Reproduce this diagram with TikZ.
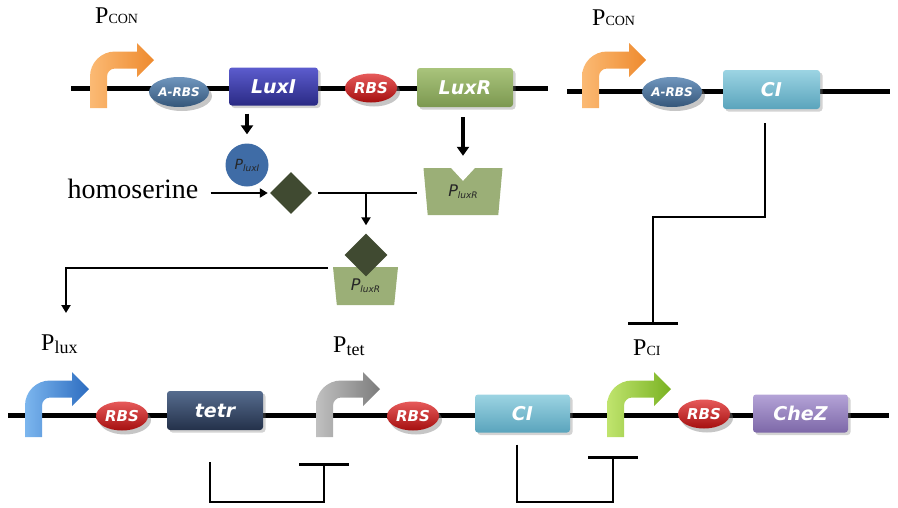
\documentclass[tikz,border=0pt]{standalone}
\usepackage{fontspec}
\setmainfont{Liberation Serif}
\newfontfamily\genefont{DejaVu Sans}
\usepackage{tikz}
\usetikzlibrary{arrows.meta, calc, shapes.geometric, shadows}

\definecolor{luxItop}{HTML}{5C5CCE}
\definecolor{luxIbot}{HTML}{2A2A84}
\definecolor{luxRtop}{HTML}{A9C47C}
\definecolor{luxRbot}{HTML}{7C9850}
\definecolor{citop}{HTML}{9CD4E3}
\definecolor{cibot}{HTML}{5AA4BC}
\definecolor{tetrtop}{HTML}{566C8E}
\definecolor{tetrbot}{HTML}{24314A}
\definecolor{cheztop}{HTML}{B4A3D7}
\definecolor{chezbot}{HTML}{7D68A8}
\definecolor{rbsred}{HTML}{DC1414}
\definecolor{arbsblue}{HTML}{4C7CAE}
\definecolor{plblue}{HTML}{3F6CA6}
\definecolor{sage}{HTML}{9BAF77}
\definecolor{olive}{HTML}{404A31}
\definecolor{orangeA}{HTML}{FBBA74}
\definecolor{orangeB}{HTML}{EE8A2E}
\definecolor{blueA}{HTML}{7CB6EE}
\definecolor{blueB}{HTML}{2C6CC0}
\definecolor{greyA}{HTML}{C0C0C0}
\definecolor{greyB}{HTML}{7C7C7C}
\definecolor{greenA}{HTML}{C0E46E}
\definecolor{greenB}{HTML}{79B222}

\newcommand{\sublab}[1]{{\fontsize{18}{18}\selectfont\raisebox{-3pt}{#1}}}
\newcommand{\caplab}[1]{{\fontsize{14}{14}\selectfont #1}}
\newcommand{\prot}[1]{P\raisebox{-2pt}{\fontsize{9}{9}\selectfont #1}}

\tikzset{
  dna/.style={line width=5pt},
  link/.style={line width=2.4pt},
  tip/.style={-{Triangle[length=8pt,width=9pt]}},
  fat/.style={line width=3.5pt, -{Triangle[length=9pt,width=12pt]}},
  rep/.style={line width=2.8pt, -{Bar[width=50pt]}},
  gene/.style={rectangle, rounded corners=3pt, minimum height=38pt, inner sep=0pt, text=white,
    font=\genefont\bfseries\itshape\fontsize{19}{19}\selectfont,
    drop shadow={shadow xshift=2.5pt, shadow yshift=-2.5pt, opacity=0.35}},
  rbs/.style={ellipse, minimum width=52pt, minimum height=29pt, inner sep=0pt, text=white,
    font=\genefont\bfseries\itshape\fontsize{15}{15}\selectfont,
    top color=rbsred!70!white, middle color=rbsred, bottom color=rbsred!75!black,
    drop shadow={shadow xshift=3pt, shadow yshift=-4pt, opacity=0.45}},
  arbs/.style={rbs, minimum width=60pt, minimum height=30pt,
    top color=arbsblue!80!white, middle color=arbsblue, bottom color=arbsblue!70!black,
    font=\genefont\bfseries\itshape\fontsize{12}{12}\selectfont},
  plabel/.style={anchor=base west, inner sep=0pt, font=\fontsize{24}{24}\selectfont},
  molecule/.style={diamond, fill=olive, minimum size=42pt, inner sep=0pt},
  protein/.style={trapezium, shape border rotate=180, trapezium stretches body, fill=sage,
    inner sep=0pt, text=black!85, font=\genefont\itshape\fontsize{16}{16}\selectfont},
  promoter/.pic={
    \path[pic actions] (0,0) -- (0,-31.5) .. controls (0,-45.3) and (11.2,-56.5) .. (25,-56.5)
      -- (47,-56.5) -- (47,-65) -- (64,-48) -- (47,-31) -- (47,-39.5) -- (25,-39.5)
      .. controls (20.6,-39.5) and (17,-35.9) .. (17,-31.5) -- (17,0) -- cycle;
  }
}

\begin{document}
\begin{tikzpicture}[x=1pt, y=-1pt]
  \useasboundingbox (0,0) rectangle (898,507);

  % DNA backbones
  \draw[dna] (71,88) -- (548,88);
  \draw[dna] (567,91) -- (890,91);
  \draw[dna] (8,415) -- (889,415);

  % Promoters
  \pic[left color=orangeA, right color=orangeB] at (90,108) {promoter};
  \pic[left color=orangeA, right color=orangeB] at (582,108) {promoter};
  \pic[left color=blueA, right color=blueB] at (25,437) {promoter};
  \pic[left color=greyA, right color=greyB] at (316,437) {promoter};
  \pic[left color=greenA, right color=greenB] at (607,437) {promoter};

  % Promoter labels
  \node[plabel] (pconA) at (95,23) {P\caplab{CON}};
  \node[plabel] (pconB) at (592,25) {P\caplab{CON}};
  \node[plabel] (plux) at (41,350) {P\sublab{lux}};
  \node[plabel] (ptet) at (333,352) {P\sublab{tet}};
  \node[plabel] (pci) at (633,355) {P\caplab{CI}};

  % Ribosome binding sites
  \node[arbs] (arbsA) at (179,92) {A-RBS};
  \node[rbs] (rbsA) at (371,88) {RBS};
  \node[arbs] (arbsB) at (672,92) {A-RBS};
  \node[rbs] (rbsB) at (122,416) {RBS};
  \node[rbs] (rbsC) at (413,416) {RBS};
  \node[rbs] (rbsD) at (704,414) {RBS};

  % Genes
  \node[gene, minimum width=89pt, top color=luxItop, bottom color=luxIbot] (luxI) at (273.5,86.5) {LuxI};
  \node[gene, minimum width=96pt, minimum height=39pt, top color=luxRtop, bottom color=luxRbot] (luxR) at (465,87.5) {LuxR};
  \node[gene, minimum width=97pt, minimum height=39pt, top color=citop, bottom color=cibot] (ciA) at (771.5,89.5) {CI};
  \node[gene, minimum width=96pt, minimum height=39pt, top color=tetrtop, bottom color=tetrbot] (tetr) at (215,410.5) {tetr};
  \node[gene, minimum width=95pt, top color=citop, bottom color=cibot] (ciB) at (522.5,413.5) {CI};
  \node[gene, minimum width=95pt, top color=cheztop, bottom color=chezbot] (cheZ) at (800.5,413.5) {CheZ};

  % Products and signal
  \node[circle, fill=plblue, minimum size=43pt, inner sep=0pt, text=black!85,
    font=\genefont\itshape\fontsize{14}{14}\selectfont] (pluxI) at (247,165) {\prot{luxI}};
  \node[font=\fontsize{28}{28}\selectfont, inner sep=0pt] (homo) at (133,188.5) {homoserine};
  \node[molecule] (dA) at (291,193) {};
  \node[protein, minimum width=79pt, minimum height=47pt, trapezium angle=73] (trA) at (463,191.5) {\prot{luxR}};
  \fill[white] ($(trA.north)+(-13,-1)$) -- ($(trA.north)+(0,13)$) -- ($(trA.north)+(13,-1)$) -- cycle;
  \node[protein, minimum width=65pt, minimum height=38pt, trapezium angle=74.5] (trB) at (365.5,286) {\raisebox{-3pt}{\prot{luxR}}};
  \node[molecule, minimum size=43pt] (dB) at (366,255) {};

  % Expression and binding
  \draw[fat, shorten <=8pt, shorten >=9pt] (pluxI.north |- luxI.south) -- (pluxI.north);
  \draw[fat, shorten <=10pt] (trA.north |- luxR.south) -- ($(trA.north)+(0,-12)$);
  \draw[link, tip, shorten >=2pt] (homo.east |- dA) ++(12,0) -- (dA.west);
  \coordinate (dAend) at (417,193);
  \draw[link, shorten <=6pt] (dA.east) -- (dAend);
  \draw[link, tip, shorten >=8pt] (dB.north |- dA) -- (dB.north);
  \coordinate (luxin) at (66,313);
  \draw[link, tip] ($(trB.north)+(-37.5,1)$) -| (luxin);

  % Repression
  \coordinate (barA) at (653,325);
  \draw[rep] ($(ciA.south)+(-6.5,14)$) |- ($(barA)+(0,-108)$) -- (barA);
  \coordinate (barB) at (324,463);
  \draw[rep] ($(tetr.south)+(-5,32)$) |- ($(barB)+(0,39)$) -- (barB);
  \coordinate (barC) at (613,456);
  \draw[rep] ($(ciB.south)+(-5.5,12)$) |- ($(barC)+(0,46)$) -- (barC);
\end{tikzpicture}
\end{document}
